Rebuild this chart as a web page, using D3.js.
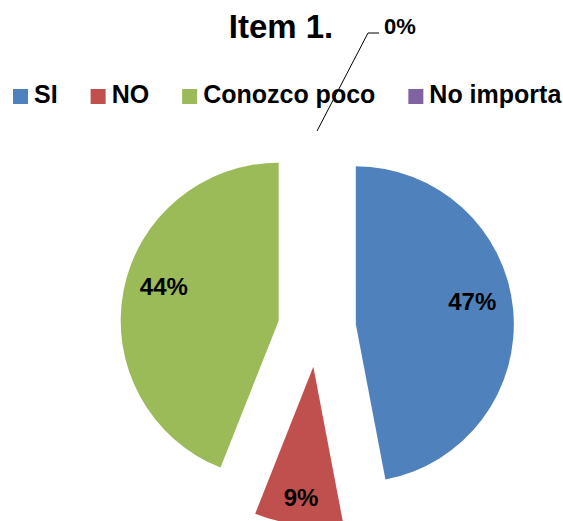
<!DOCTYPE html>
<html>
<head>
<meta charset="utf-8">
<style>
  body { margin: 0; background: #fff; }
  text { font-family: "Liberation Sans", Arial, sans-serif; fill: #000; }
</style>
</head>
<body>
<script src="https://cdn.jsdelivr.net/npm/d3@7"></script>
<script>
// data
var categories = ["SI", "NO", "Conozco poco", "No importa"];
var values = [47, 9, 44, 0];
var labels = ["47%", "9%", "44%", "0%"];
var colors = ["#4F81BD", "#C0504D", "#9BBB59", "#8064A2"];

var width = 563, height = 521;
var cx = 317, cy = 328;     // pie centre
var radius = 158;
var explode = 39;           // every slice pulled out along its bisector

var svg = d3.select("body").append("svg")
    .attr("width", width)
    .attr("height", height);

// title
svg.append("text")
    .attr("x", 281)
    .attr("y", 38)
    .attr("text-anchor", "middle")
    .style("font-size", "33px")
    .style("font-weight", "bold")
    .text("Item 1.");

// legend, laid out from measured text widths
var legend = svg.append("g").attr("transform", "translate(13,89)");
var lx = 0;
categories.forEach(function (c, i) {
    var g = legend.append("g").attr("transform", "translate(" + lx + ",0)");
    g.append("rect")
        .attr("width", 15).attr("height", 15)
        .attr("fill", colors[i]);
    var t = g.append("text")
        .attr("x", 21)
        .attr("y", 14)
        .style("font-size", "25px")
        .style("font-weight", "bold")
        .text(c);
    lx += 21 + t.node().getComputedTextLength() + 33;
});

var pie = d3.pie().sort(null).value(function (d) { return d; });
var arcs = pie(values);
var arc = d3.arc().innerRadius(0).outerRadius(radius);

function offset(d, r) {
    var a = (d.startAngle + d.endAngle) / 2;
    return [Math.sin(a) * r, -Math.cos(a) * r];
}

var chart = svg.append("g").attr("transform", "translate(" + cx + "," + cy + ")");

var slices = chart.selectAll("g.slice")
    .data(arcs)
    .enter().append("g")
    .attr("class", "slice")
    .attr("transform", function (d) {
        var o = offset(d, explode);
        return "translate(" + o[0] + "," + o[1] + ")";
    });

slices.append("path")
    .attr("d", arc)
    .attr("fill", function (d, i) { return colors[i]; });

// labels inside the visible slices (big slices keep theirs a bit higher)
slices.filter(function (d) { return d.value > 0; })
    .append("text")
    .attr("transform", function (d) {
        var p = offset(d, radius * (d.value < 15 ? 0.83 : 0.74));
        return "translate(" + p[0] + "," + p[1] + ")";
    })
    .attr("text-anchor", "middle")
    .attr("dy", function (d) { return d.value < 15 ? "0.35em" : "-0.15em"; })
    .style("font-size", "24px")
    .style("font-weight", "bold")
    .text(function (d, i) { return labels[values.indexOf(d.value)]; });

// the 0% slice gets a leader line out to its label
slices.filter(function (d) { return d.value === 0; })
    .each(function (d) {
        var g = d3.select(this);
        var o = offset(d, explode);
        var start = offset(d, radius);
        var elbow = [51, -295 - o[1]];
        var end = [elbow[0] + 11, elbow[1]];
        g.append("path")
            .attr("d", d3.line()([start, elbow, end]))
            .attr("fill", "none")
            .attr("stroke", "#000")
            .attr("stroke-width", 1);
        g.append("text")
            .attr("x", end[0] + 5)
            .attr("y", end[1] + 1)
            .style("font-size", "22px")
            .style("font-weight", "bold")
            .text(labels[values.indexOf(0)]);
    });
</script>
</body>
</html>
